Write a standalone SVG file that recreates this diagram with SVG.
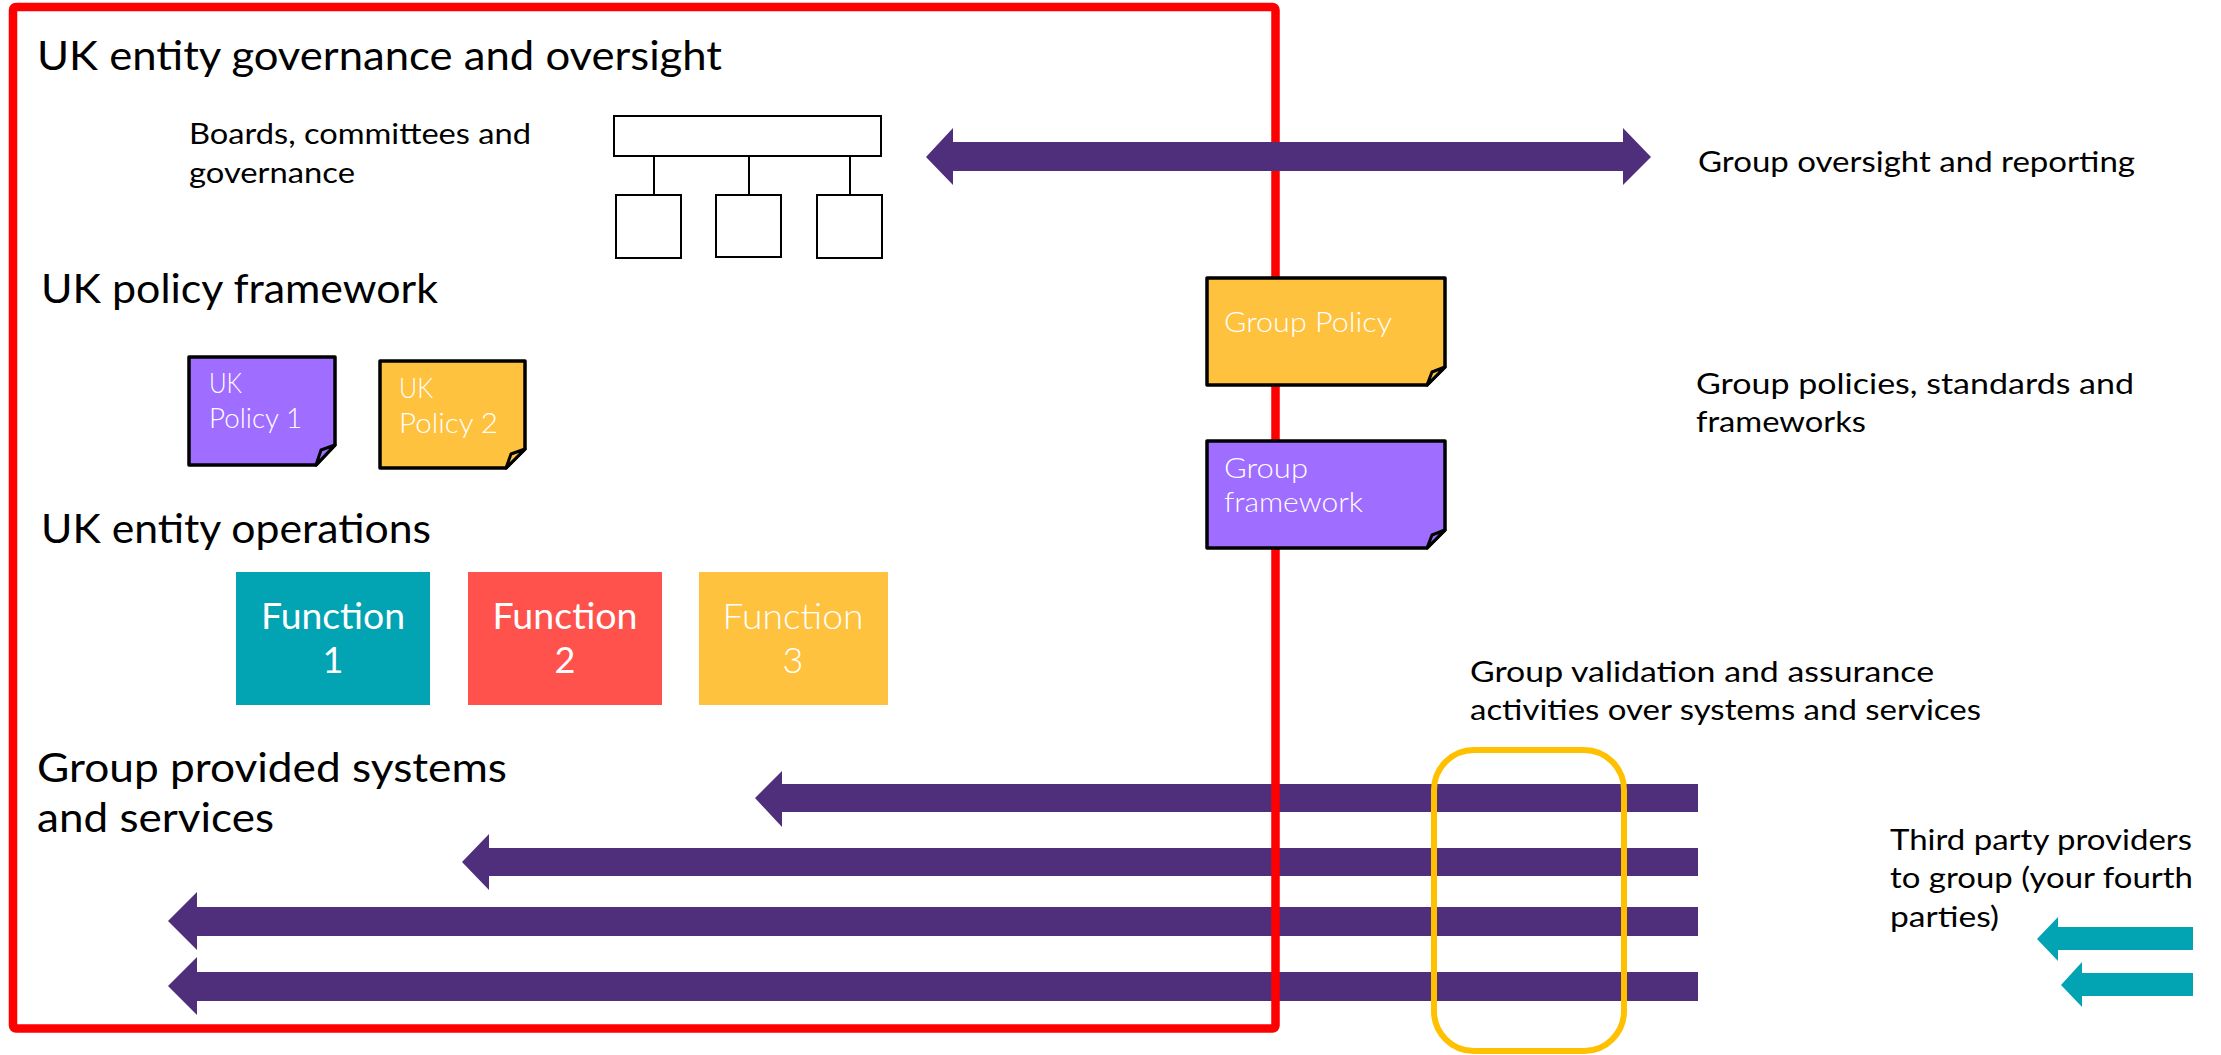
<svg xmlns="http://www.w3.org/2000/svg" width="2221" height="1055" viewBox="0 0 2221 1055">
  <style>
    text { font-family: Lato, "Liberation Sans", sans-serif; }
    .h1 { font-size: 41px; fill: #000; }
    .lbl { font-size: 29px; fill: #000; }
    .note-txt { font-size: 28px; fill: #fff; font-weight: 300; }
    .fn-txt { font-size: 36px; fill: #fff; text-anchor: middle; }
    .fn-txt-light { font-size: 36px; fill: #fff; text-anchor: middle; font-weight: 300; }
    .note { stroke: #000; stroke-width: 3.5; stroke-linejoin: round; }
    .fold { stroke: #000; stroke-width: 3; stroke-linejoin: round; }
    .violet { fill: #9F6DFF; }
    .amber { fill: #FEC23F; }
    .org { fill: #fff; stroke: #000; stroke-width: 2; }
    .purple-arrow { fill: #4F2E7C; }
    .teal-arrow { fill: #02A4B3; }
  </style>

  <!-- supply arrows from group into the UK entity -->
  <g id="connectors">
    <polygon class="purple-arrow" points="755,798 782,771 782,784 1698,784 1698,812 782,812 782,827"/>
    <polygon class="purple-arrow" points="462,862 489,834 489,848 1698,848 1698,876 489,876 489,890"/>
    <polygon class="purple-arrow" points="168,921 197,892 197,907 1698,907 1698,936 197,936 197,950"/>
    <polygon class="purple-arrow" points="168,986 197,957 197,972 1698,972 1698,1001 197,1001 197,1015"/>
    <polygon class="teal-arrow" points="2037,939 2058,917 2058,927 2193,927 2193,950 2058,950 2058,961"/>
    <polygon class="teal-arrow" points="2061,985 2082,962 2082,973 2193,973 2193,996 2082,996 2082,1007"/>
  </g>

  <!-- UK entity boundary -->
  <g id="uk-boundary">
    <rect x="13" y="7" width="1262.5" height="1021.5" rx="3" fill="none" stroke="#FF0000" stroke-width="8.5"/>
  </g>

  <!-- two-way oversight / reporting link -->
  <g id="connectors-oversight">
    <polygon class="purple-arrow" points="926,157 953,128 953,142 1623,142 1623,128 1651,157 1623,185 1623,171 953,171 953,185"/>
  </g>

  <!-- assurance window over the supply arrows -->
  <g id="assurance">
    <rect x="1434" y="750" width="190" height="301" rx="40" fill="none" stroke="#FFC000" stroke-width="6"/>
  </g>

  <!-- section headings -->
  <g id="headings">
    <text class="h1" x="37" y="70" textLength="685" lengthAdjust="spacingAndGlyphs">UK entity governance and oversight</text>
    <text class="h1" x="41" y="303" textLength="397" lengthAdjust="spacingAndGlyphs">UK policy framework</text>
    <text class="h1" x="41" y="543" textLength="390" lengthAdjust="spacingAndGlyphs">UK entity operations</text>
    <text class="h1" x="37" y="782" textLength="470" lengthAdjust="spacingAndGlyphs">Group provided systems</text>
    <text class="h1" x="37" y="832" textLength="237" lengthAdjust="spacingAndGlyphs">and services</text>
  </g>

  <!-- governance structure -->
  <g id="governance">
    <text class="lbl" x="189" y="144" textLength="342" lengthAdjust="spacingAndGlyphs">Boards, committees and</text>
    <text class="lbl" x="189" y="183" textLength="166" lengthAdjust="spacingAndGlyphs">governance</text>
    <rect class="org" x="614" y="116" width="267" height="40"/>
    <path d="M654,156 V195 M749,156 V195 M850,156 V195" stroke="#000" stroke-width="2" fill="none"/>
    <rect class="org" x="616" y="195" width="65" height="63"/>
    <rect class="org" x="716" y="195" width="65" height="62"/>
    <rect class="org" x="817" y="195" width="65" height="63"/>
  </g>

  <!-- UK policies -->
  <g id="uk-policy-1">
    <path class="note violet" d="M189,357 H335 V445 L316,465 H189 Z"/>
    <path class="fold violet" d="M316,465 L321,450 L335,445 Z"/>
    <text class="note-txt" x="209" y="393" textLength="33" lengthAdjust="spacingAndGlyphs">UK</text>
    <text class="note-txt" x="209" y="428" textLength="93" lengthAdjust="spacingAndGlyphs">Policy 1</text>
  </g>
  <g id="uk-policy-2">
    <path class="note amber" d="M380,361 H525 V449 L506,468 H380 Z"/>
    <path class="fold amber" d="M506,468 L511,454 L525,449 Z"/>
    <text class="note-txt" x="399" y="398" textLength="34" lengthAdjust="spacingAndGlyphs">UK</text>
    <text class="note-txt" x="399" y="433" textLength="99" lengthAdjust="spacingAndGlyphs">Policy 2</text>
  </g>

  <!-- UK functions -->
  <g id="function-1">
    <rect x="236" y="572" width="194" height="133" fill="#02A4B3"/>
    <text class="fn-txt" x="333" y="629" textLength="144" lengthAdjust="spacingAndGlyphs">Function</text>
    <text class="fn-txt" x="333" y="673">1</text>
  </g>
  <g id="function-2">
    <rect x="468" y="572" width="194" height="133" fill="#FF524C"/>
    <text class="fn-txt" x="565" y="629" textLength="145" lengthAdjust="spacingAndGlyphs">Function</text>
    <text class="fn-txt" x="565" y="673">2</text>
  </g>
  <g id="function-3">
    <rect x="699" y="572" width="189" height="133" fill="#FEC23F"/>
    <text class="fn-txt-light" x="793" y="629" textLength="141" lengthAdjust="spacingAndGlyphs">Function</text>
    <text class="fn-txt-light" x="793" y="673">3</text>
  </g>

  <!-- group policies -->
  <g id="group-policy">
    <path class="note amber" d="M1207,278 H1445 V367 L1427,385 H1207 Z"/>
    <path class="fold amber" d="M1427,385 L1432,372 L1445,367 Z"/>
    <text class="note-txt" x="1224" y="332" textLength="168" lengthAdjust="spacingAndGlyphs">Group Policy</text>
  </g>
  <g id="group-framework">
    <path class="note violet" d="M1207,441 H1445 V530 L1427,548 H1207 Z"/>
    <path class="fold violet" d="M1427,548 L1432,535 L1445,530 Z"/>
    <text class="note-txt" x="1224" y="478" textLength="84" lengthAdjust="spacingAndGlyphs">Group</text>
    <text class="note-txt" x="1224" y="512" textLength="139" lengthAdjust="spacingAndGlyphs">framework</text>
  </g>

  <!-- right-hand descriptions -->
  <g id="group-labels">
    <text class="lbl" x="1698" y="172" textLength="437" lengthAdjust="spacingAndGlyphs">Group oversight and reporting</text>
    <text class="lbl" x="1696" y="394" textLength="438" lengthAdjust="spacingAndGlyphs">Group policies, standards and</text>
    <text class="lbl" x="1696" y="432" textLength="170" lengthAdjust="spacingAndGlyphs">frameworks</text>
    <text class="lbl" x="1470" y="682" textLength="464" lengthAdjust="spacingAndGlyphs">Group validation and assurance</text>
    <text class="lbl" x="1470" y="720" textLength="511" lengthAdjust="spacingAndGlyphs">activities over systems and services</text>
    <text class="lbl" x="1890" y="850" textLength="302" lengthAdjust="spacingAndGlyphs">Third party providers</text>
    <text class="lbl" x="1890" y="888" textLength="303" lengthAdjust="spacingAndGlyphs">to group (your fourth</text>
    <text class="lbl" x="1890" y="927" textLength="109" lengthAdjust="spacingAndGlyphs">parties)</text>
  </g>
</svg>
